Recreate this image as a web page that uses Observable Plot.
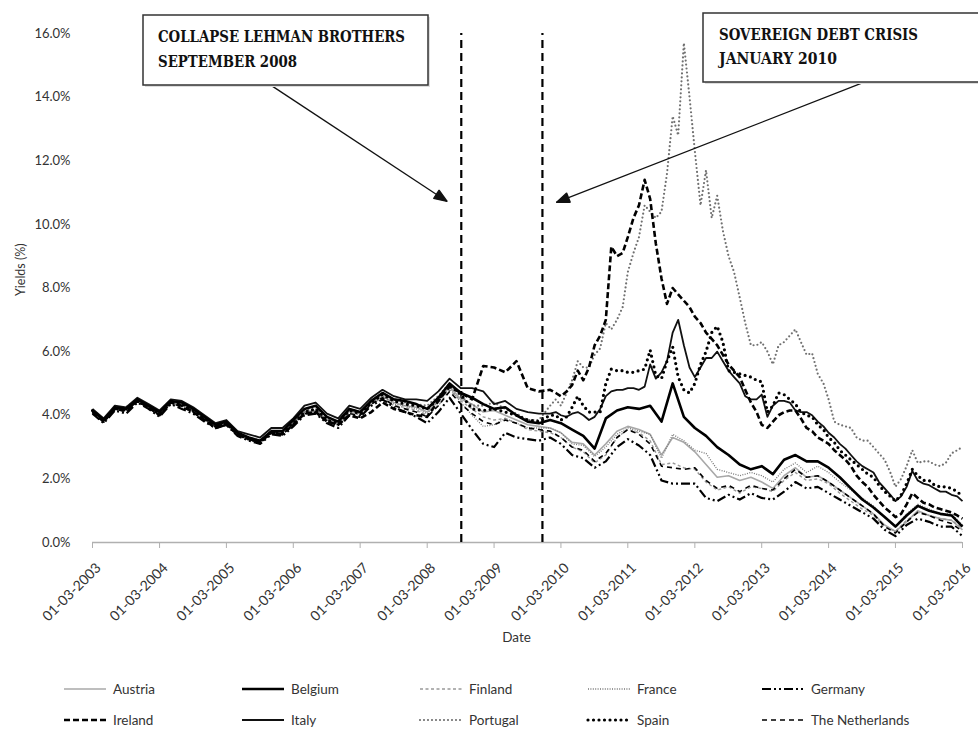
<!DOCTYPE html>
<html>
<head>
<meta charset="utf-8">
<script src="https://cdn.jsdelivr.net/npm/d3@7"></script>
<script src="https://cdn.jsdelivr.net/npm/@observablehq/plot@0.6"></script>
<style>
  body { margin: 0; background: #fff; }
  #wrap { position: relative; width: 978px; height: 729px; overflow: hidden; font-family: Lato, "Open Sans", sans-serif; }
  #chart { position: absolute; left: 0; top: 0; }
  #annot { position: absolute; left: 0; top: 0; pointer-events: none; }
  .item { position: absolute; display: flex; align-items: center; font-size: 13.5px; color: #333; height: 20px; white-space: nowrap; }
  .item svg { margin-right: 5px; }
</style>
</head>
<body>
<div id="wrap"><div id="chart"></div></div>
<script>
// ---------- Data ----------
const countries = ["Austria","Belgium","Finland","France","Germany","Ireland","Italy","Portugal","Spain","The Netherlands"];

// bimonthly grid Mar 2003 .. Mar 2016 (79 points)
const datesA = d3.utcMonth.range(new Date(Date.UTC(2003,2,1)), new Date(Date.UTC(2016,3,1)), 2);
// bimonthly Mar 2003 .. Nov 2009, then monthly Jan 2010 .. Mar 2016 (116 points)
const datesB = [
  ...d3.utcMonth.range(new Date(Date.UTC(2003,2,1)), new Date(Date.UTC(2010,0,1)), 2),
  ...d3.utcMonth.range(new Date(Date.UTC(2010,0,1)), new Date(Date.UTC(2016,3,1)))
];

const austria = [
  4.15,3.8,4.2,4.15,4.45,
  4.25,4.05,4.4,4.35,4.15,3.9,
  3.65,3.75,3.45,3.25,3.15,3.45,
  3.45,3.75,4.1,4.15,3.85,3.75,
  4.15,4.05,4.4,4.6,4.4,4.3,
  4.25,4.1,4.45,4.9,4.5,4.35,
  4.1,4.15,4.0,3.85,3.7,3.65,
  3.6,3.45,3.15,3.1,2.75,3.1,
  3.5,3.65,3.55,3.4,2.75,3.3,
  3.15,2.85,2.45,2.05,2.1,1.95,
  2.05,1.9,1.7,2.1,2.35,2.05,
  2.1,1.9,1.65,1.4,1.15,0.9,
  0.55,0.35,0.65,1.0,0.85,0.75,
  0.7,0.4
];
const belgium = [
  4.15,3.85,4.25,4.2,4.5,
  4.3,4.1,4.45,4.4,4.2,3.95,
  3.7,3.8,3.45,3.3,3.2,3.5,
  3.5,3.85,4.2,4.3,3.95,3.8,
  4.2,4.1,4.45,4.7,4.5,4.45,
  4.35,4.2,4.55,5.0,4.7,4.55,
  4.35,4.2,4.25,4.0,3.8,3.75,
  3.85,3.75,3.55,3.35,2.95,3.9,
  4.15,4.25,4.2,4.3,3.8,5.0,
  3.95,3.6,3.35,3.0,2.75,2.45,
  2.3,2.4,2.15,2.6,2.75,2.55,
  2.55,2.35,2.05,1.7,1.35,1.1,
  0.8,0.5,0.85,1.15,1.0,0.9,
  0.85,0.5
];
const finland = [
  4.1,3.8,4.2,4.15,4.45,
  4.25,4.0,4.4,4.3,4.1,3.85,
  3.65,3.75,3.4,3.25,3.15,3.45,
  3.45,3.75,4.05,4.1,3.8,3.7,
  4.1,4.0,4.35,4.55,4.3,4.25,
  4.15,4.0,4.3,4.8,4.45,4.2,
  3.95,3.85,3.9,3.75,3.55,3.5,
  3.45,3.3,3.0,2.85,2.5,2.75,
  3.3,3.55,3.45,3.2,2.45,2.5,
  2.35,2.3,1.9,1.65,1.75,1.55,
  1.75,1.7,1.6,1.95,2.2,1.95,
  2.0,1.85,1.55,1.3,1.05,0.85,
  0.5,0.35,0.7,0.95,0.85,0.75,
  0.7,0.45
];
const france = [
  4.1,3.8,4.2,4.15,4.45,
  4.25,4.05,4.4,4.3,4.15,3.9,
  3.65,3.75,3.4,3.25,3.15,3.45,
  3.45,3.75,4.1,4.15,3.85,3.75,
  4.15,4.05,4.4,4.6,4.35,4.3,
  4.2,4.05,4.4,4.85,4.4,4.0,
  3.65,3.7,3.9,3.75,3.6,3.6,
  3.6,3.45,3.1,3.05,2.7,3.0,
  3.4,3.6,3.5,3.4,2.65,3.4,
  3.2,2.9,2.8,2.3,2.2,2.1,
  2.2,2.1,1.9,2.3,2.5,2.2,
  2.4,2.2,1.9,1.65,1.4,1.15,
  0.8,0.5,0.9,1.2,1.05,0.9,
  0.9,0.55
];
const germany = [
  4.05,3.75,4.15,4.05,4.4,
  4.2,3.95,4.35,4.2,4.05,3.8,
  3.6,3.7,3.35,3.2,3.1,3.4,
  3.35,3.65,4.0,4.05,3.75,3.6,
  4.0,3.95,4.3,4.5,4.25,4.1,
  3.95,3.75,4.1,4.55,4.05,3.55,
  3.1,3.0,3.45,3.3,3.25,3.2,
  3.3,3.1,2.75,2.65,2.35,2.55,
  3.0,3.25,3.05,2.75,1.95,1.85,
  1.85,1.85,1.4,1.3,1.5,1.35,
  1.55,1.4,1.35,1.6,1.9,1.7,
  1.75,1.55,1.35,1.15,0.95,0.75,
  0.4,0.2,0.55,0.75,0.65,0.5,
  0.5,0.2
];
const netherlands = [
  4.1,3.8,4.2,4.1,4.45,
  4.25,4.0,4.4,4.25,4.1,3.85,
  3.65,3.75,3.4,3.25,3.15,3.45,
  3.4,3.7,4.05,4.1,3.8,3.7,
  4.05,4.0,4.35,4.55,4.3,4.2,
  4.1,3.95,4.3,4.75,4.35,4.05,
  3.8,3.7,3.85,3.75,3.6,3.55,
  3.5,3.3,3.0,2.9,2.55,2.8,
  3.3,3.55,3.4,3.1,2.4,2.35,
  2.3,2.35,1.95,1.7,1.8,1.6,
  1.8,1.7,1.65,2.0,2.3,2.05,
  2.1,1.9,1.65,1.4,1.15,0.9,
  0.5,0.3,0.65,0.95,0.85,0.7,
  0.6,0.35
];
const ireland = [
  4.1,3.8,4.2,4.15,4.45,
  4.25,4.0,4.4,4.3,4.1,3.85,
  3.6,3.7,3.4,3.25,3.15,3.45,
  3.4,3.7,4.05,4.1,3.8,3.7,
  4.0,3.9,4.1,4.4,4.2,4.1,
  4.0,3.95,4.45,4.9,4.7,4.5,
  5.55,5.5,5.35,5.7,4.85,4.75,
  4.8,4.7,4.6,4.75,4.95,5.4,5.1,5.5,6.2,6.5,7.0,9.3,
  9.0,9.1,9.6,10.2,10.6,11.4,10.8,9.4,8.3,7.5,8.0,7.8,
  7.6,7.4,7.1,6.9,6.6,6.4,6.2,5.9,5.6,5.4,5.2,4.8,
  4.4,4.1,3.7,3.6,3.8,4.0,4.1,4.15,4.15,3.9,3.6,3.5,
  3.3,3.2,3.1,2.9,2.75,2.6,2.4,2.1,1.9,1.75,1.5,1.3,
  1.1,0.95,0.8,0.9,1.2,1.55,1.4,1.25,1.2,1.1,1.05,1.0,
  0.95,0.85,0.75
];
const italy = [
  4.2,3.9,4.3,4.25,4.55,
  4.35,4.15,4.5,4.45,4.25,4.0,
  3.75,3.85,3.5,3.4,3.3,3.6,
  3.6,3.9,4.3,4.4,4.05,3.9,
  4.3,4.2,4.55,4.8,4.6,4.5,
  4.5,4.45,4.75,5.15,4.85,4.85,
  4.75,4.35,4.45,4.2,4.1,4.05,
  4.05,4.1,4.0,3.95,4.05,4.1,4.0,3.85,3.95,4.2,4.6,4.75,
  4.8,4.8,4.85,4.85,4.8,4.9,5.6,5.15,5.35,5.7,6.6,7.0,
  6.2,5.5,5.2,5.5,5.8,5.8,6.0,5.7,5.4,5.2,5.0,4.6,
  4.5,4.5,4.65,3.95,4.3,4.45,4.45,4.4,4.15,4.1,4.1,4.0,
  3.8,3.65,3.45,3.3,3.1,2.95,2.75,2.55,2.4,2.3,2.2,1.9,
  1.7,1.5,1.3,1.45,1.75,2.25,1.95,1.85,1.8,1.7,1.6,1.6,
  1.5,1.45,1.3
];
const portugal = [
  4.15,3.85,4.25,4.25,4.5,
  4.3,4.1,4.45,4.35,4.15,3.9,
  3.65,3.75,3.45,3.3,3.2,3.5,
  3.5,3.8,4.15,4.2,3.9,3.8,
  4.2,4.1,4.45,4.7,4.5,4.4,
  4.35,4.3,4.6,5.0,4.6,4.3,
  4.3,4.4,4.2,4.05,3.85,3.85,
  4.3,4.5,4.3,4.7,5.1,5.7,5.5,5.5,5.9,6.1,6.9,6.7,
  7.0,7.4,8.5,9.1,9.6,10.6,10.4,10.2,10.4,11.6,13.4,12.8,
  15.7,14.0,12.3,10.6,11.7,10.2,10.9,9.8,9.0,8.5,7.7,6.9,
  6.2,6.2,6.3,6.0,5.6,6.2,6.3,6.5,6.7,6.3,5.9,5.95,
  5.3,5.0,4.5,3.8,3.7,3.65,3.6,3.3,3.2,3.2,3.0,2.8,
  2.6,2.2,1.75,2.0,2.4,2.9,2.5,2.55,2.55,2.45,2.4,2.5,
  2.8,2.9,3.0
];
const spain = [
  4.15,3.85,4.2,4.2,4.45,
  4.25,4.05,4.4,4.35,4.15,3.9,
  3.65,3.75,3.4,3.25,3.15,3.45,
  3.45,3.75,4.1,4.2,3.85,3.75,
  4.15,4.05,4.4,4.65,4.45,4.35,
  4.3,4.2,4.5,4.95,4.65,4.2,
  4.15,4.2,4.1,4.0,3.85,3.8,
  4.0,4.0,3.85,3.95,4.25,4.6,4.3,4.1,4.1,4.1,5.0,5.45,
  5.4,5.4,5.35,5.35,5.4,5.45,6.05,5.25,5.15,5.7,6.15,5.2,
  4.8,4.7,5.0,5.6,6.0,6.6,6.8,6.3,5.4,5.35,5.3,5.25,
  5.2,5.1,5.05,4.1,4.3,4.7,4.65,4.5,4.35,4.1,4.0,3.95,
  3.7,3.55,3.3,3.15,2.9,2.75,2.6,2.45,2.3,2.15,2.05,1.8,
  1.6,1.45,1.3,1.5,1.85,2.3,2.1,1.95,1.95,1.8,1.75,1.75,
  1.7,1.6,1.45
];

const yTicks = [0, 2, 4, 6, 8, 10, 12, 14, 16];
const tickYears = [2003,2004,2005,2006,2007,2008,2009,2010,2011,2012,2013,2014,2015,2016];
const eventDates = ["2008-09-03", "2009-11-20"];
const annotationLines = [
  ["COLLAPSE LEHMAN BROTHERS", "SEPTEMBER 2008"],
  ["SOVEREIGN DEBT CRISIS", "JANUARY 2010"]
];
// arrow start (box edge) and end (tip) in data coordinates
const arrowFrom = [["2005-10-31", 14.37], ["2014-09-12", 14.47]];
const arrowTo   = [["2008-06-18", 10.72], ["2010-02-04", 10.69]];

// ---------- styles ----------
const styles = {
  "Austria":        {stroke: "#a8a8a8", strokeWidth: 1.6, dash: null, cap: "butt"},
  "Belgium":        {stroke: "#000",    strokeWidth: 2.6, dash: null, cap: "butt"},
  "Finland":        {stroke: "#999",    strokeWidth: 1.4, dash: "3,2.5", cap: "butt"},
  "France":         {stroke: "#777",    strokeWidth: 1.3, dash: "1,1.4", cap: "butt"},
  "Germany":        {stroke: "#000",    strokeWidth: 2.2, dash: "9,3,2,3,2,3", cap: "butt"},
  "Ireland":        {stroke: "#000",    strokeWidth: 2.6, dash: "6,3", cap: "butt"},
  "Italy":          {stroke: "#111",    strokeWidth: 1.8, dash: null, cap: "butt"},
  "Portugal":       {stroke: "#707070", strokeWidth: 2.2, dash: "0,4", cap: "round"},
  "Spain":          {stroke: "#000",    strokeWidth: 3.2, dash: "0,5.5", cap: "round"},
  "The Netherlands":{stroke: "#000",    strokeWidth: 1.6, dash: "5,4", cap: "butt"}
};
const seriesValues = {
  "Austria": [datesA, austria], "Belgium": [datesA, belgium], "Finland": [datesA, finland],
  "France": [datesA, france], "Germany": [datesA, germany], "Ireland": [datesB, ireland],
  "Italy": [datesB, italy], "Portugal": [datesB, portugal], "Spain": [datesB, spain],
  "The Netherlands": [datesA, netherlands]
};
const drawOrder = ["Austria","Finland","France","Portugal","The Netherlands","Germany","Italy","Belgium","Ireland","Spain"];

function filledArrow(color) {
  const ns = "http://www.w3.org/2000/svg";
  const m = document.createElementNS(ns, "marker");
  m.setAttribute("viewBox", "-14 -7 16 14");
  m.setAttribute("markerUnits", "userSpaceOnUse");
  m.setAttribute("markerWidth", 16);
  m.setAttribute("markerHeight", 14);
  m.setAttribute("refX", 0);
  m.setAttribute("refY", 0);
  m.setAttribute("orient", "auto");
  m.setAttribute("overflow", "visible");
  const p = document.createElementNS(ns, "path");
  p.setAttribute("d", "M-13,-5L0,0L-13,5Z");
  p.setAttribute("fill", "#111");
  m.appendChild(p);
  return m;
}

const lineMarks = drawOrder.map(name => {
  const [dates, vals] = seriesValues[name];
  const data = dates.map((d, i) => ({date: d, value: vals[i]})).filter(d => d.value != null);
  const s = styles[name];
  return Plot.line(data, {x: "date", y: "value", stroke: s.stroke, strokeWidth: s.strokeWidth,
    strokeDasharray: s.dash ?? undefined, strokeLinecap: s.cap, strokeLinejoin: "round"});
});

const arrows = arrowFrom.map((a, i) => ({x1: new Date(a[0]), y1: a[1], x2: new Date(arrowTo[i][0]), y2: arrowTo[i][1]}));
const fmt = d3.utcFormat("%d-%m-%Y");
const tickDates = tickYears.map(y => new Date(Date.UTC(y, 2, 1)));

const chart = Plot.plot({
  width: 978,
  height: 650,
  marginLeft: 92,
  marginRight: 16,
  marginTop: 33,
  marginBottom: 108,
  style: {fontFamily: "Lato, 'Open Sans', sans-serif", fontSize: "13px", background: "white", color: "#333"},
  x: {type: "utc", domain: [new Date(Date.UTC(2003,2,1)), new Date(Date.UTC(2016,2,1))]},
  y: {domain: [0, 16]},
  marks: [
    Plot.axisY({ticks: yTicks, tickFormat: d => d.toFixed(1) + "%", tickSize: 0, tickPadding: 22, fontSize: 13, fill: "#333", label: null}),
    Plot.axisX({ticks: tickDates, tickFormat: () => "", tickSize: 6, stroke: "#b0b0b0", label: null}),
    Plot.axisX({ticks: tickDates, tickFormat: fmt, tickRotate: -45, tickSize: 0, tickPadding: 23, dx: 6,
      fill: "#333", fontSize: 14, label: null}),
    Plot.ruleY([0], {stroke: "#b0b0b0", strokeWidth: 1.6}),
    Plot.ruleX(eventDates.map(d => new Date(d)), {y1: 0, y2: 16, stroke: "#000", strokeWidth: 2.2, strokeDasharray: "8,5"}),
    ...lineMarks,
    Plot.link(arrows, {x1: "x1", y1: "y1", x2: "x2", y2: "y2", stroke: "#111", strokeWidth: 1.3, markerEnd: filledArrow}),
    Plot.text(["Yields (%)"], {frameAnchor: "left", dx: -72, dy: 8, rotate: -90, fontSize: 12.5, fill: "#333"}),
    Plot.text(["Date"], {frameAnchor: "bottom", dx: -11, dy: 99, fontSize: 13.5, fill: "#333"})
  ]
});
const wrap = document.getElementById("wrap");
document.getElementById("chart").appendChild(chart);

// ---------- annotation boxes ----------
const ns = "http://www.w3.org/2000/svg";
const ann = document.createElementNS(ns, "svg");
ann.setAttribute("id", "annot");
ann.setAttribute("width", 978);
ann.setAttribute("height", 650);
const boxes = [
  {x: 143, y: 15, w: 285, h: 70, tx: 158, ty: [42, 67], tl: [247, 139]},
  {x: 703, y: 13, w: 300, h: 69, tx: 719, ty: [40, 64], tl: [199, 118]}
];
boxes.forEach((b, i) => {
  const sh = document.createElementNS(ns, "rect");
  sh.setAttribute("x", b.x + 2); sh.setAttribute("y", b.y + 2);
  sh.setAttribute("width", b.w); sh.setAttribute("height", b.h);
  sh.setAttribute("fill", "#ddd");
  ann.appendChild(sh);
  const r = document.createElementNS(ns, "rect");
  r.setAttribute("x", b.x); r.setAttribute("y", b.y);
  r.setAttribute("width", b.w); r.setAttribute("height", b.h);
  r.setAttribute("fill", "#fff"); r.setAttribute("stroke", "#333"); r.setAttribute("stroke-width", 1.5);
  ann.appendChild(r);
  annotationLines[i].forEach((line, j) => {
    const t = document.createElementNS(ns, "text");
    t.setAttribute("x", b.tx); t.setAttribute("y", b.ty[j]);
    t.setAttribute("font-family", "'DejaVu Serif', 'Liberation Serif', serif");
    t.setAttribute("font-weight", "bold");
    t.setAttribute("font-size", 16);
    t.setAttribute("fill", "#111");
    t.setAttribute("textLength", b.tl[j]);
    t.setAttribute("lengthAdjust", "spacingAndGlyphs");
    t.textContent = line;
    ann.appendChild(t);
  });
});
wrap.appendChild(ann);

// ---------- legend ----------
const legendCols = [62, 240, 418, 586, 760];
const legendRows = [689, 720];
countries.forEach((name, i) => {
  const s = styles[name];
  const item = document.createElement("div");
  item.className = "item";
  item.style.left = legendCols[i % 5] + "px";
  item.style.top = (legendRows[Math.floor(i / 5)] - 10) + "px";
  const sv = document.createElementNS(ns, "svg");
  sv.setAttribute("width", 46); sv.setAttribute("height", 10);
  const l = document.createElementNS(ns, "line");
  l.setAttribute("x1", 2); l.setAttribute("x2", 44); l.setAttribute("y1", 5); l.setAttribute("y2", 5);
  l.setAttribute("stroke", s.stroke); l.setAttribute("stroke-width", s.strokeWidth);
  l.setAttribute("stroke-linecap", s.cap);
  if (s.dash) l.setAttribute("stroke-dasharray", s.dash);
  sv.appendChild(l);
  item.appendChild(sv);
  const span = document.createElement("span");
  span.textContent = name;
  item.appendChild(span);
  wrap.appendChild(item);
});
</script>
</body>
</html>
